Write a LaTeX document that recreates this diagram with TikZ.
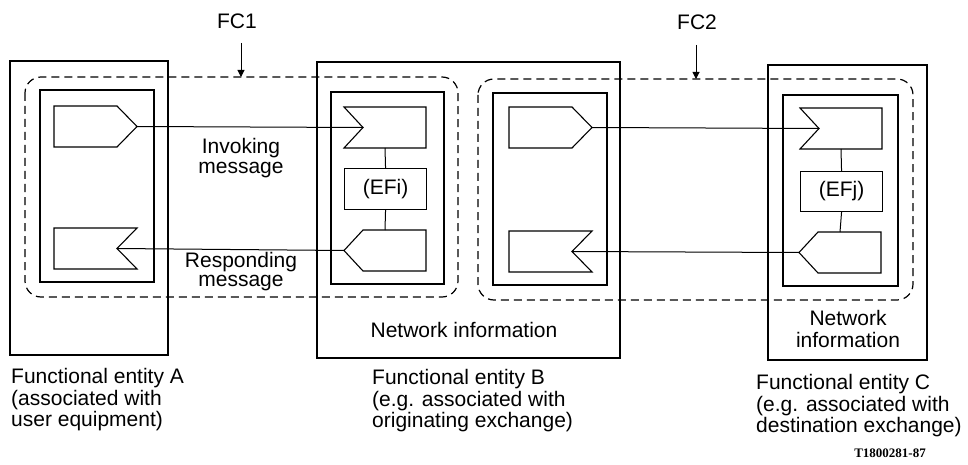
\documentclass[tikz,border=0pt]{standalone}
\usepackage{fontspec}
\setmainfont{Liberation Sans}
\newfontfamily\codefont{Liberation Serif}
\usetikzlibrary{arrows.meta}
\tikzset{
  box/.style={draw, line width=1.1pt},
  innerbox/.style={draw, line width=1.1pt},
  msg/.style={draw, line width=1.1pt, line join=miter},
  fcregion/.style={draw, line width=1.2pt, dash pattern=on 8pt off 5pt, rounded corners=16pt},
  conn/.style={draw, line width=1pt},
  lbl/.style={font=\fontsize{21}{22}\selectfont, inner sep=0pt},
  captext/.style={font=\fontsize{21}{21.5}\selectfont, inner sep=0pt, align=left, anchor=west},
  fcarrow/.style={draw, line width=1pt, -{Triangle[width=7pt,length=7pt]}},
}
% message shapes: #1 = name, #2 = x, #3 = ytop
\newcommand{\sendR}[3]{%
  \draw[msg] (#2,#3) -- ++(63,0) -- ++(20,20.5) -- ++(-20,20.5) -- ++(-63,0) -- cycle;
  \coordinate (#1) at (#2+83,#3+20.5);}
\newcommand{\recvR}[3]{%
  \draw[msg] (#2,#3) -- ++(83,0) -- ++(-20,20.5) -- ++(20,20.5) -- ++(-83,0) -- cycle;
  \coordinate (#1) at (#2+63,#3+20.5);}
\newcommand{\recvL}[3]{%
  \draw[msg] (#2,#3) -- ++(82,0) -- ++(0,41) -- ++(-82,0) -- ++(19,-20.5) -- cycle;
  \coordinate (#1) at (#2+19,#3+20.5);
  \coordinate (#1-b) at (#2+41,#3+41);}
\newcommand{\sendL}[3]{%
  \draw[msg] (#2+19,#3) -- ++(63,0) -- ++(0,41) -- ++(-63,0) -- ++(-19,-20.5) -- cycle;
  \coordinate (#1) at (#2,#3+20.5);
  \coordinate (#1-t) at (#2+41,#3);}
\begin{document}
\begin{tikzpicture}[x=1pt,y=-1pt]
\useasboundingbox (0,0) rectangle (968,465);
% outer entity boxes
\draw[box] (10,61) rectangle (168,355);
\draw[box] (317,62) rectangle (620,358);
\draw[box] (768,65) rectangle (927,360);
% inner boxes
\draw[innerbox] (40,90) rectangle (154,282);
\draw[innerbox] (331,92) rectangle (444,284);
\draw[innerbox] (493,93) rectangle (607,285);
\draw[innerbox] (783,95) rectangle (898,286);
% dashed FC regions
\draw[fcregion] (25,77) rectangle (458,297);
\draw[fcregion] (478,79) rectangle (913,300);
% entity A
\sendR{aS}{54}{106}
\recvR{aR}{54}{228}
% entity B
\recvL{bR}{344}{107}
\node[draw, line width=1.1pt, minimum width=82pt, minimum height=41pt, inner sep=0pt, lbl, anchor=north west] (efi) at (344,168) {(EFi)};
\sendL{bS}{344}{230}
\draw[conn] (bR-b) -- (efi.north);
\draw[conn] (efi.south) -- (bS-t);
% entity B right part
\sendR{b2S}{509}{107}
\recvR{b2R}{509}{231}
% entity C
\recvL{cR}{800}{108}
\node[draw, line width=1.1pt, minimum width=82pt, minimum height=40pt, inner sep=0pt, lbl, anchor=north west] (efj) at (800,171) {(EFj)};
\sendL{cS}{799}{232}
\draw[conn] (cR-b) -- (efj.north);
\draw[conn] (efj.south) -- (cS-t);
% connectors
\draw[conn] (aS) -- (bR);
\draw[conn] (bS) -- (aR);
\draw[conn] (b2S) -- (cR);
\draw[conn] (cS) -- (b2R);
% message labels
\node[lbl] (inv1) at (241,148) {Invoking};
\node[lbl] (inv2) at (241,170) {message};
\node[lbl] (res1) at (241,262) {Responding};
\node[lbl] (res2) at (241,283) {message};
% FC labels and arrows
\node[lbl] (fc1) at (237,21) {FC1};
\node[lbl] (fc2) at (697,22) {FC2};
\coordinate (fc1a) at (241,43);
\coordinate (fc1b) at (241,77);
\coordinate (fc2a) at (696,45);
\coordinate (fc2b) at (696,79);
\draw[fcarrow] (fc1a) -- (fc1b);
\draw[fcarrow] (fc2a) -- (fc2b);
% network information
\node[lbl] (nib) at (464,330) {Network information};
\node[lbl, align=center] (nic) at (848,329) {Network\\information};
% captions
\node[captext] (capa) at (11,400) {Functional entity A\\(associated with\\user equipment)};
\node[captext] (capb) at (372,401) {Functional entity B\\(e.g. associated with\\originating exchange)};
\node[captext] (capc) at (756,406) {Functional entity C\\(e.g. associated with\\destination exchange)};
\node[inner sep=0pt, font=\codefont\bfseries\fontsize{13}{15}\selectfont] (code) at (890,453) {T1800281-87};
\end{tikzpicture}
\end{document}
